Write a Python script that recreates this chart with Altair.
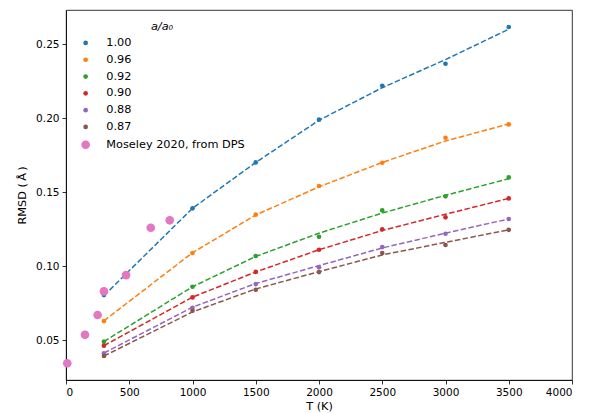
import altair as alt
import pandas as pd

T = [300, 1000, 1500, 2000, 2500, 3000, 3500]
series_names = ["1.00", "0.96", "0.92", "0.90", "0.88", "0.87"]
rmsd = {
    "1.00": [0.0804, 0.1390, 0.1700, 0.1989, 0.2218, 0.2367, 0.2615],
    "0.96": [0.0628, 0.1088, 0.1347, 0.1541, 0.1698, 0.1867, 0.1957],
    "0.92": [0.0489, 0.0860, 0.1068, 0.1198, 0.1376, 0.1471, 0.1599],
    "0.90": [0.0462, 0.0788, 0.0960, 0.1110, 0.1248, 0.1329, 0.1457],
    "0.88": [0.0410, 0.0718, 0.0878, 0.0991, 0.1128, 0.1218, 0.1318],
    "0.87": [0.0392, 0.0698, 0.0840, 0.0959, 0.1088, 0.1142, 0.1245],
}
fit = {
    "1.00": [0.0800, 0.1390, 0.1700, 0.1985, 0.2205, 0.2395, 0.2600],
    "0.96": [0.0630, 0.1090, 0.1345, 0.1535, 0.1700, 0.1845, 0.1960],
    "0.92": [0.0490, 0.0860, 0.1065, 0.1222, 0.1358, 0.1478, 0.1590],
    "0.90": [0.0462, 0.0790, 0.0960, 0.1110, 0.1240, 0.1350, 0.1457],
    "0.88": [0.0412, 0.0722, 0.0882, 0.1003, 0.1122, 0.1222, 0.1318],
    "0.87": [0.0392, 0.0690, 0.0845, 0.0962, 0.1075, 0.1160, 0.1245],
}
moseley_label = "Moseley 2020, from DPS"
moseley_T = [10, 150, 250, 300, 475, 670, 820]
moseley_rmsd = [0.0343, 0.0536, 0.0669, 0.0829, 0.0939, 0.1259, 0.1309]

colors = ["#1f77b4", "#ff7f0e", "#2ca02c", "#d62728", "#9467bd", "#8c564b", "#e377c2"]
domain = series_names + [moseley_label]
sizes = [22, 22, 22, 22, 22, 22, 75]

pts_rows = []
for s in series_names:
    for t, v in zip(T, rmsd[s]):
        pts_rows.append({"T": t, "RMSD": v, "series": s})
for t, v in zip(moseley_T, moseley_rmsd):
    pts_rows.append({"T": t, "RMSD": v, "series": moseley_label})
pts = pd.DataFrame(pts_rows)

fit_rows = []
for s in series_names:
    for t, v in zip(T, fit[s]):
        fit_rows.append({"T": t, "fit": v, "curve": s})
fits = pd.DataFrame(fit_rows)

xscale = alt.Scale(domain=[0, 4000], nice=False, zero=False)
yscale = alt.Scale(domain=[0.023, 0.273], nice=False, zero=False)

xaxis = alt.Axis(title="T (K)", values=list(range(0, 4001, 500)), format="d", grid=False,
                 titlePadding=3)
yaxis = alt.Axis(title="RMSD (\u2009Å\u2009)", values=[0.05, 0.10, 0.15, 0.20, 0.25], format=".2f",
                 grid=False, titlePadding=8)

lines = alt.Chart(fits).mark_line(strokeDash=[5.5, 2.4], strokeWidth=1.5).encode(
    x=alt.X("T:Q", scale=xscale, axis=xaxis),
    y=alt.Y("fit:Q", scale=yscale, axis=yaxis),
    stroke=alt.Stroke("curve:N", scale=alt.Scale(domain=series_names, range=colors[:6]), legend=None),
    detail="curve:N",
)

legend_def = alt.Legend(orient="none", legendX=14, legendY=11,
                        titleFontStyle="italic", titleFontWeight="normal",
                        titleAnchor="middle", titleFontSize=11.3,
                        labelFontSize=11.3, rowPadding=4.8, symbolOpacity=1,
                        labelOffset=15, titlePadding=5)

points = alt.Chart(pts).mark_circle(opacity=1).encode(
    x=alt.X("T:Q", scale=xscale, axis=xaxis),
    y=alt.Y("RMSD:Q", scale=yscale, axis=yaxis),
    color=alt.Color("series:N", scale=alt.Scale(domain=domain, range=colors),
                    title="a/a₀", sort=domain, legend=legend_def),
    size=alt.Size("series:N", scale=alt.Scale(type="ordinal", domain=domain, range=sizes),
                  title="a/a₀", sort=domain, legend=legend_def),
)

chart = alt.layer(lines, points).properties(
    width=506, height=370,
    autosize="none",
    padding={"left": 58, "top": 2, "right": 15, "bottom": 32},
).configure(font="DejaVu Sans").configure_view(
    stroke="black", strokeWidth=0.8
).configure_axis(
    domainColor="black", domainWidth=0.8, tickColor="black", tickSize=4, tickWidth=0.8,
    labelFontSize=10.5, titleFontSize=11.3, titleFontWeight="normal", labelColor="black",
    titleColor="black", labelPadding=3, labelFont="DejaVu Sans", titleFont="DejaVu Sans"
).configure_legend(
    labelFont="DejaVu Sans", titleFont="DejaVu Sans", labelColor="black", titleColor="black"
)

chart.save("out.html", embed_options={"renderer": "svg", "actions": False})
